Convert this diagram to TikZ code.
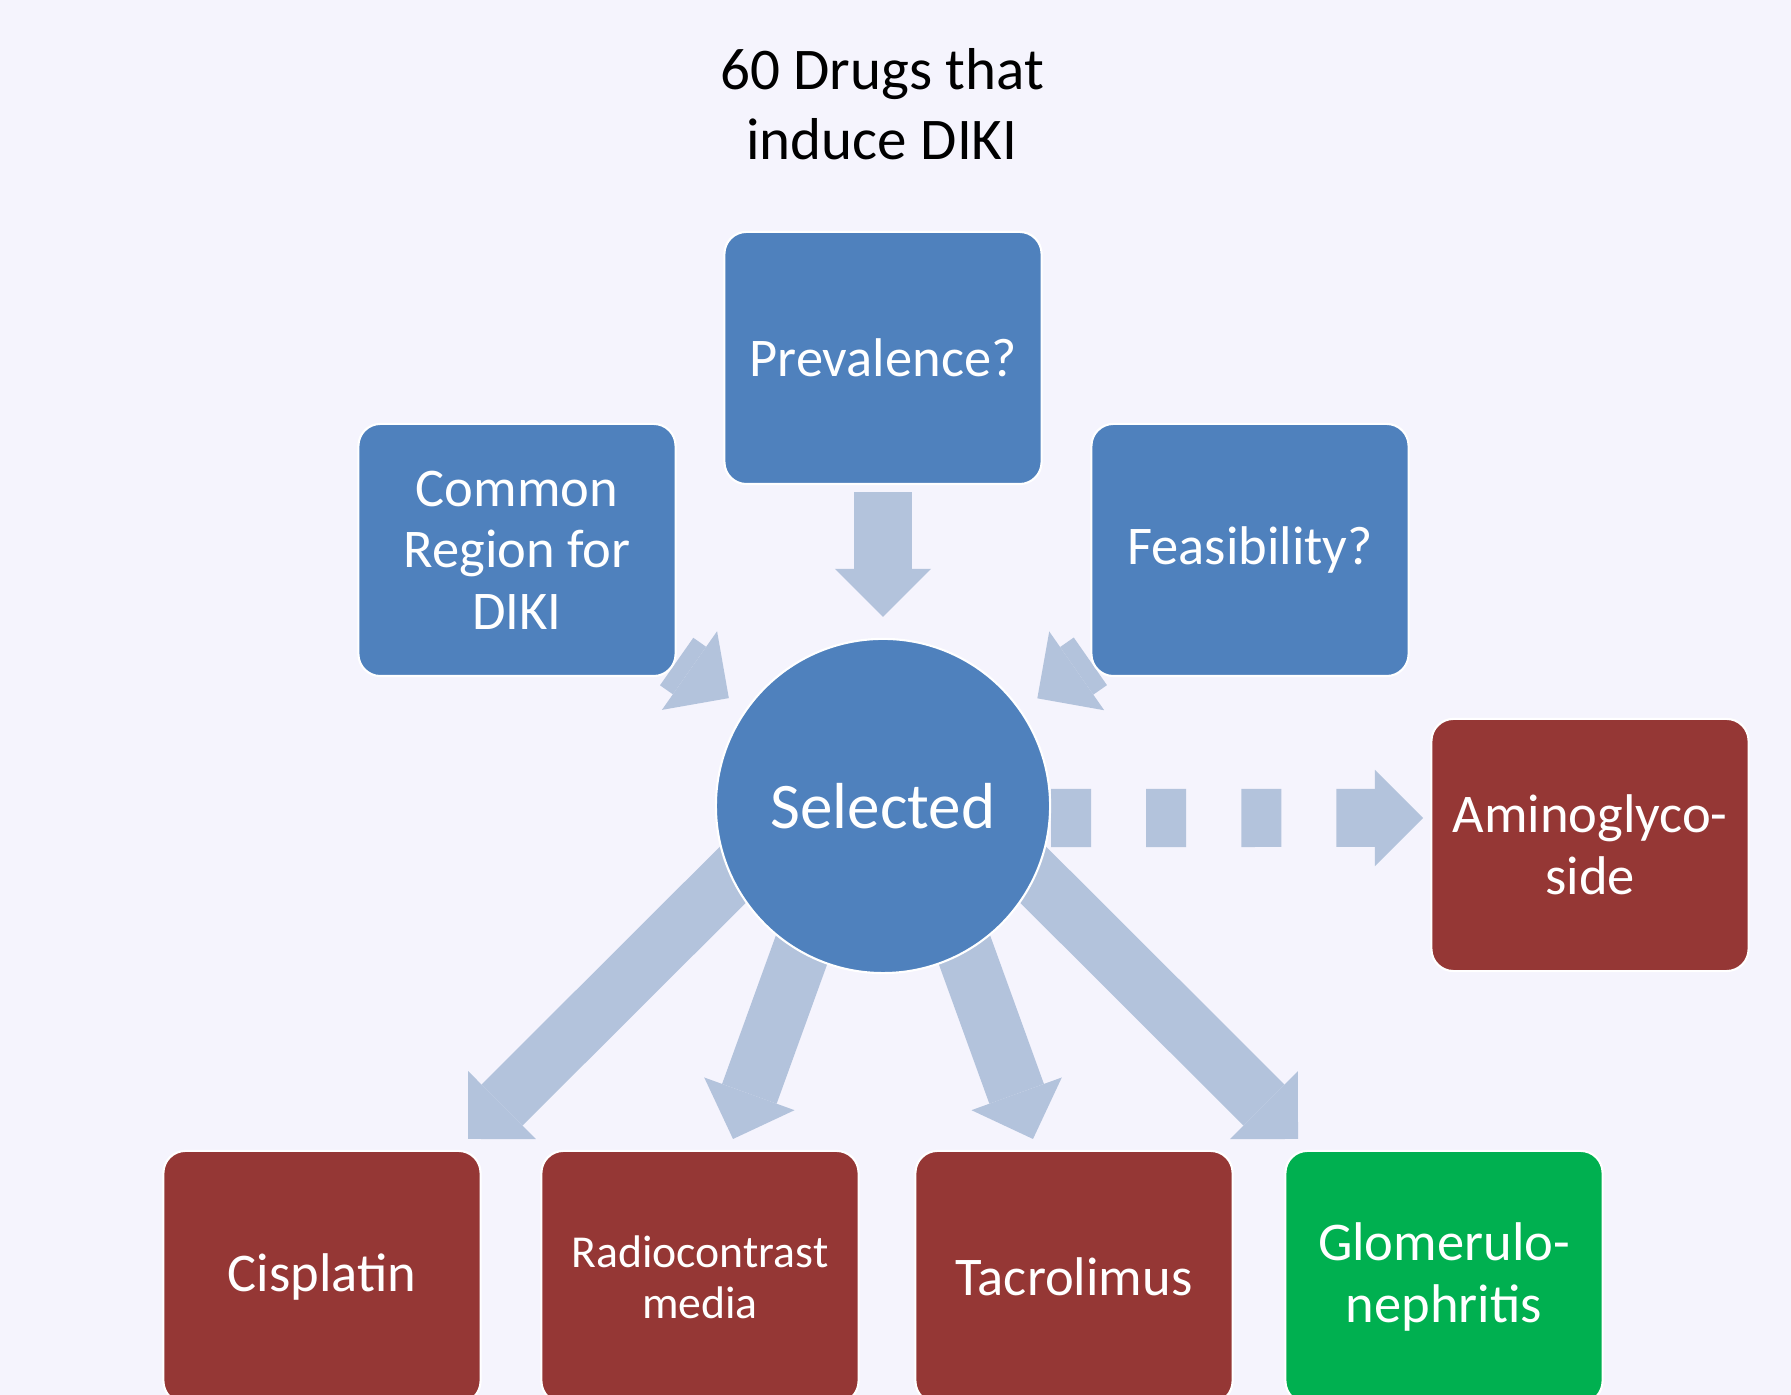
\documentclass[tikz,border=0pt]{standalone}
\usepackage{fontspec}
\setmainfont{Carlito}
\usetikzlibrary{arrows.meta, backgrounds}

\definecolor{pagebg}{HTML}{F5F4FD}
\definecolor{boxblue}{HTML}{4F81BD}
\definecolor{boxred}{HTML}{953735}
\definecolor{boxgreen}{HTML}{00B050}
\definecolor{flowcol}{HTML}{B3C3DC}

\pgfdeclarelayer{canvas}
\pgfsetlayers{canvas,background,main}

\begin{document}
\begin{tikzpicture}[x=0.01cm, y=0.01cm,
    card/.style={rectangle, rounded corners=0.22cm, draw=white, line width=0.6pt,
                 minimum width=3.17cm, minimum height=2.52cm, text=white,
                 align=center, font=\fontsize{15.5}{17.5}\selectfont},
    question/.style={card, fill=boxblue},
    drug/.style={card, fill=boxred},
    other/.style={card, fill=boxgreen},
    core/.style={circle, fill=boxblue, draw=white, line width=0.6pt,
                 minimum size=3.34cm, inner sep=0pt, text=white,
                 font=\fontsize{18.5}{22}\selectfont},
    flow/.style={draw=flowcol, line width=0.58cm,
                 -{Triangle[width=0.96cm, length=0.48cm, line width=0pt]}},
    maybe/.style={flow, dash pattern=on 0.4cm off 0.55cm}]

   % Canvas
      \begin{pgfonlayer}{canvas}
         \fill[pagebg] (0,0) rectangle (1791,1395);
      \end{pgfonlayer}
      \useasboundingbox (0,0) rectangle (1791,1395);

   % Title
      \node[font=\fontsize{16.8}{20}\selectfont, align=center] (title) at (882,1291) {60 Drugs that\\induce DIKI};

   % Nodes
      \node[question] (prev)   at (883,1037) {Prevalence?};
      \node[question] (common) at (517,845)  {Common\\Region for\\DIKI};
      \node[question] (feas)   at (1250,845) {Feasibility?};
      \node[core]     (sel)    at (883,589)  {Selected};
      \node[drug]     (amino)  at (1590,550) {Aminoglyco-\\side};
      \node[drug]     (cis)    at (322,118)  {Cisplatin};
      \node[drug, font=\fontsize{13}{14.5}\selectfont] (radio) at (700,118) {Radiocontrast\\media};
      \node[drug]     (tacro)  at (1074,118) {Tacrolimus};
      \node[other]    (glom)   at (1444,118) {Glomerulo-\\nephritis};

   % Arrow ends
      \coordinate (fan)     at ([yshift=0.81cm]sel.center);
      \coordinate (toAmino) at (1423,577);
      \coordinate (toCis)   at (468,256);
      \coordinate (toRadio) at (733,256);
      \coordinate (toTacro) at (1033,256);
      \coordinate (toGlom)  at (1298,256);

   % Paths
      \begin{scope}[on background layer]
         \path (prev)   edge[flow, shorten <=0.07cm, shorten >=0.21cm] (sel);
         \path (common) edge[flow, shorten >=0.2cm] (sel);
         \path (feas)   edge[flow, shorten >=0.2cm] (sel);
         \path ([yshift=-0.12cm]sel.east) edge[maybe] (toAmino);
         \path (fan) edge[flow] (toCis)
                     edge[flow] (toRadio)
                     edge[flow] (toTacro)
                     edge[flow] (toGlom);
      \end{scope}
\end{tikzpicture}
\end{document}
